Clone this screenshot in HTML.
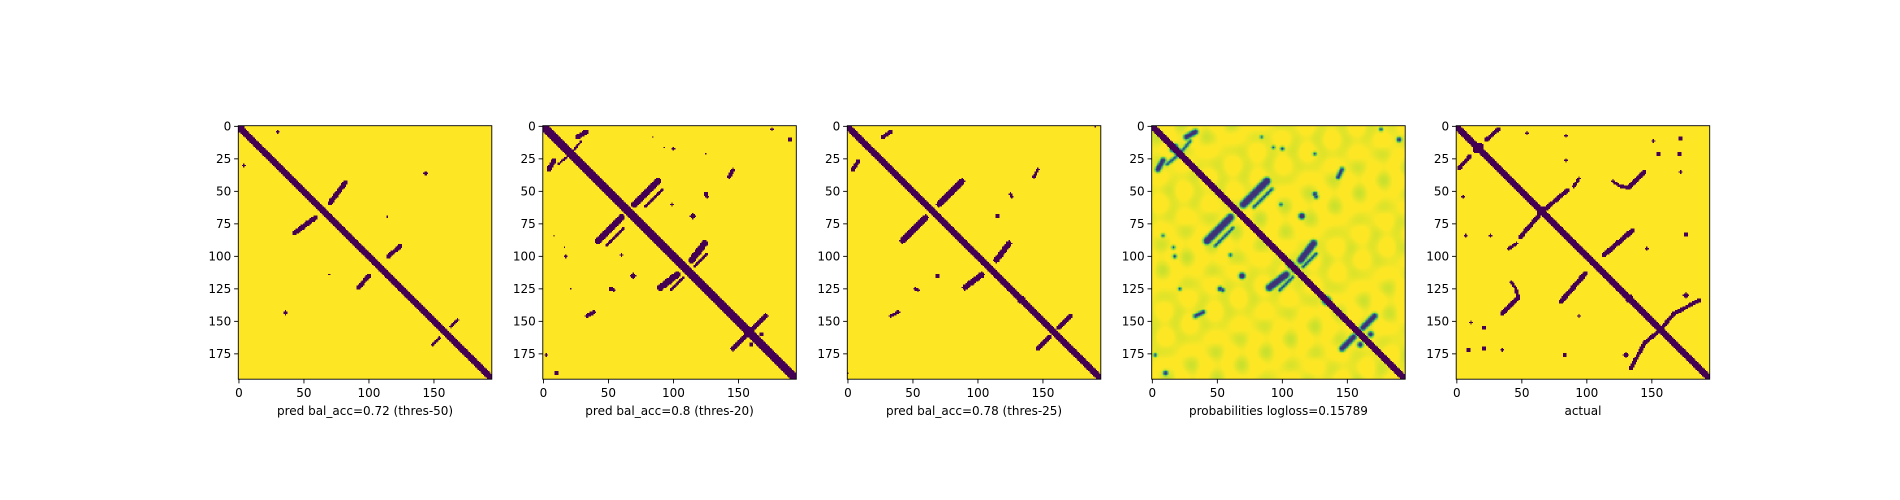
<!DOCTYPE html>
<html><head><meta charset="utf-8"><style>
html,body{margin:0;padding:0;background:#fff;width:1900px;height:500px;overflow:hidden}
canvas{position:absolute;image-rendering:pixelated;width:253.5px;height:253.5px}
svg{position:absolute;left:0;top:0}
text{font-family:"DejaVu Sans","Liberation Sans",sans-serif;font-size:12px;fill:#000}
</style></head><body>
<div id="wrap"></div>
<svg id="ov" width="1900" height="500"></svg>
<script>
const N = 195;
const panelLefts = [238.3, 542.8, 847.3, 1151.7, 1456.2];
const panelTop = 125.7, panelSize = 253.5;
const xTicks = [0, 50, 100, 150];
const yTicks = [0, 25, 50, 75, 100, 125, 150, 175];
const titles = ["pred bal_acc=0.72 (thres-50)", "pred bal_acc=0.8 (thres-20)", "pred bal_acc=0.78 (thres-25)", "probabilities logloss=0.15789", "actual"];
const diagWidths = [2.4, 2.9, 2.8, 2.8, 2.3];
// segments [x0,y0,x1,y1,width] in upper triangle (mirrored)
const segs1 = [[82,43,70,59,2.2],[124,92,115,100,2],[168,149,163,154,1.6],[4,0,2,2,1]];
const dots1 = [[30,4,1],[144,36,1],[114,69,0.7],[133,134,1.5],[36,143,1],[70,114,0.6]];
const segs2 = [[33,4,26,8,2.2],[29,11,21,21,1],[88,42,70,60,3.2],[92,48,78,62,1],[124,90,114,103,3],[126,98,116,108,1],[171,146,162,155,2.4],[146,33,143,39,1.6],[17,16,20,21,3],[106,106,110,110,3]];
const dots2 = [[115,69,1.7],[126,54,1],[134,134,2.5],[190,10,1.2],[176,2,0.8],[84,8,0.6],[100,17,0.8],[125,21,0.6],[93,16,0.6],[99,60,0.8],[125,52,1.2],[160,168,1.5]];
const segs3 = [[33,4,27,8,1.8],[88,42,70,60,2.6],[124,90,114,103,2.6],[171,146,162,155,2.2],[146,33,143,39,1.4]];
const dots3 = [[115,69,1.2],[133,134,1.8],[190,0,0.6],[126,54,0.8],[125,52,0.8],[143,38,1]];
const segs5 = [[32,2,23,10,1.8],[94,40,90,46,1.6],[85,49,64,67,2],[135,80,113,99,2.2],[186,134,167,144,1.8],[167,144,156,157,1.8],[144,35,132,47,1.8],[132,47,126,46,1.6],[120,42,124,45,1.2]];
const dots5 = [[172,9,1.5],[171,21,1.5],[155,21,1.4],[172,35,1],[176,83,1.4],[146,94,1],[84,7,1],[54,5,1],[84,26,0.8],[151,11,0.8],[176,130,1.6],[132,133,2],[64,66,2],[18,15,2]];
const segSets = [segs1, segs2, segs3, segs2, segs5];
const dotSets = [dots1, dots2, dots3, dots2, dots5];

function distSeg(px,py,s){const dx=s[2]-s[0],dy=s[3]-s[1];const L=dx*dx+dy*dy;let t=L?((px-s[0])*dx+(py-s[1])*dy)/L:0;t=Math.max(0,Math.min(1,t));const qx=s[0]+t*dx-px,qy=s[1]+t*dy-py;return Math.sqrt(qx*qx+qy*qy);}
function field(p){
  const f=new Float32Array(N*N), g=new Float32Array(N*N);
  for(let y=0;y<N;y++)for(let x=0;x<N;x++){
    const dg=Math.abs(x-y)/1.4142-diagWidths[p];
    let m=99;
    for(const s of segSets[p]){m=Math.min(m,distSeg(x,y,s)-s[4]*0.85,distSeg(y,x,s)-s[4]*0.85);}
    for(const d of dotSets[p]){m=Math.min(m,Math.hypot(x-d[0],y-d[1])-d[2]*1.3,Math.hypot(y-d[0],x-d[1])-d[2]*1.3);}
    f[y*N+x]=Math.min(m,dg); g[y*N+x]=m;
  }
  return [f,g];
}
const vir=[[68,1,84],[59,82,139],[33,145,140],[94,201,98],[170,220,50],[253,231,37]];
function viridis(v){v=Math.max(0,Math.min(1,v))*5;const i=Math.min(4,Math.floor(v)),t=v-i;const a=vir[i],b=vir[i+1];return [a[0]+(b[0]-a[0])*t,a[1]+(b[1]-a[1])*t,a[2]+(b[2]-a[2])*t];}
const wrap=document.getElementById('wrap');
const ov=document.getElementById('ov');
const NS='http://www.w3.org/2000/svg';
function el(tag,attrs,txt){const e=document.createElementNS(NS,tag);for(const k in attrs)e.setAttribute(k,attrs[k]);if(txt!==undefined)e.textContent=txt;ov.appendChild(e);return e;}
const sc=panelSize/N;
panelLefts.forEach((L,p)=>{
  const c=document.createElement('canvas');c.width=N;c.height=N;c.style.left=L+'px';c.style.top=panelTop+'px';
  
  
  wrap.appendChild(c);
  const ctx=c.getContext('2d');const img=ctx.createImageData(N,N);const [f,g]=field(p);
  for(let y=0;y<N;y++)for(let x=0;x<N;x++){
    const m=f[y*N+x];let col;
    if(p===3){
      const gm=g[y*N+x];
      const dd=Math.max(0,gm+1.2);
      let prob=Math.exp(-dd*dd/3)*0.88;
      if(Math.abs(x-y)<=3)prob=1;
      const bg=Math.max(0,0.06*Math.sin(x*0.23+y*0.11)*Math.sin(y*0.19-x*0.07)+0.05*Math.sin((x+2*y)*0.09)*Math.cos((2*x-y)*0.13)+0.02);
      col=viridis(1-Math.max(prob,bg));
    } else col=m<=0?vir[0]:vir[5];
    const k=(y*N+x)*4;img.data[k]=col[0];img.data[k+1]=col[1];img.data[k+2]=col[2];img.data[k+3]=255;
  }
  ctx.putImageData(img,0,0);
  const fr=el('rect',{x:L,y:panelTop,width:panelSize,height:panelSize,fill:'none',stroke:'#000','stroke-width':0.9});
  
  
  xTicks.forEach(v=>{const x=L+(v+0.5)*sc;
    el('line',{x1:x,x2:x,y1:panelTop+panelSize,y2:panelTop+panelSize+4.2,stroke:'#000','stroke-width':0.9});
    const t=el('text',{x:x,y:panelTop+panelSize+18,'text-anchor':'middle'},String(v));
    
    });
  yTicks.forEach(v=>{const y=panelTop+(v+0.5)*sc;
    el('line',{x1:L-4.2,x2:L,y1:y,y2:y,stroke:'#000','stroke-width':0.9});
    const t=el('text',{x:L-7,y:y+4.3,'text-anchor':'end'},String(v));
    
    });
  const tl=el('text',{x:L+panelSize/2,y:panelTop+panelSize+36,'text-anchor':'middle'},titles[p]);
  
  
});
</script>
</body></html>
